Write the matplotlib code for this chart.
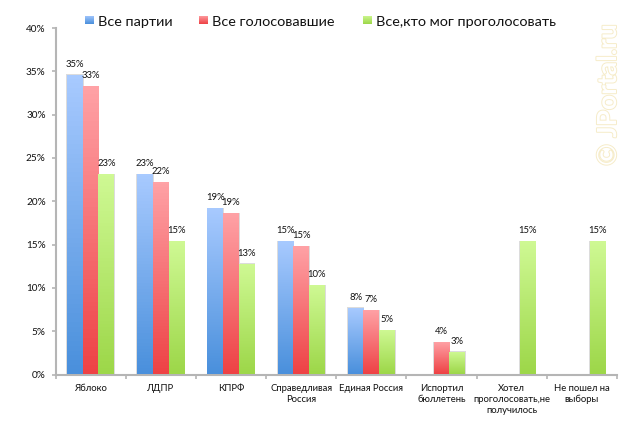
""" Grouped bar chart with gradient fill, survey by party """
import numpy as np
import matplotlib
matplotlib.use("Agg")
import matplotlib.pyplot as plt
import matplotlib.patheffects as pe
from matplotlib.colors import LinearSegmentedColormap
from matplotlib.patches import Rectangle

plt.rcParams['font.family'] = ['Lato', 'DejaVu Sans']

categories = ["Яблоко", "ЛДПР", "КПРФ", "Справедливая\nРоссия", "Единая Россия",
              "Испортил\nбюллетень", "Хотел\nпроголосовать,не\nполучилось", "Не пошел на\nвыборы"]
series_names = ["Все партии", "Все голосовавшие", "Все,кто мог проголосовать"]

all_parties = [34.6, 23.1, 19.2, 15.4, 7.7, None, None, None]
all_voted = [33.3, 22.2, 18.6, 14.8, 7.4, 3.7, None, None]
all_could = [23.1, 15.4, 12.8, 10.3, 5.1, 2.6, 15.4, 15.4]

yticks = [0, 5, 10, 15, 20, 25, 30, 35, 40]

# top colour, bottom colour
colors = [("#a8caff", "#4a90dc"), ("#ffa2a6", "#ee4245"), ("#cff994", "#9dd749")]
width = 0.224

W, H = 632, 433
fig = plt.figure(figsize=(W / 100, H / 100), dpi=100)
ax = fig.add_axes([55.5 / W, 1 - 374.5 / H, (617 - 55.5) / W, (374.5 - 28) / H])

for i, vals in enumerate([all_parties, all_voted, all_could]):
    cmap = LinearSegmentedColormap.from_list("g", [colors[i][0], colors[i][1]])
    for j, v in enumerate(vals):
        if v is None:
            continue
        x = j + (i - 1) * width
        bar = ax.bar(x, v, width, color="none", zorder=2)[0]
        # soft grey shadow at the side
        ax.add_patch(Rectangle((x - width / 2 - 0.012, 0), width + 0.024, v + 0.06,
                               fc="#dcdcdc", ec="none", zorder=1))
        im = ax.imshow(np.linspace(0, 1, 64).reshape(-1, 1), cmap=cmap, aspect="auto",
                       extent=(x - width / 2, x + width / 2, 0, v), origin="upper", zorder=3)
        im.set_clip_path(bar)
        ax.text(x, v + 0.7, f"{v:.0f}%", ha="center", va="bottom", fontsize=6.8,
                color="#111111", zorder=4)

ax.set_xlim(-0.5, len(categories) - 0.5)
ax.set_ylim(0, 40)
ax.set_xticks(np.arange(len(categories) + 1) - 0.5)
ax.set_xticklabels([])
ax.set_xticks(np.arange(len(categories)), labels=categories, minor=True)
ax.set_yticks(yticks, labels=[f"{t}%" for t in yticks])

ax.tick_params(axis="x", which="major", length=3, width=1.2, color="#b5b5b5")
ax.tick_params(axis="x", which="minor", length=0, pad=7, labelsize=6.8, labelcolor="#111111")
ax.tick_params(axis="y", length=3, width=1.2, color="#b5b5b5", labelsize=7.2, pad=4, labelcolor="#111111")
for lab in ax.get_xticklabels(minor=True):
    lab.set_linespacing(1.25)

for s in ["top", "right"]:
    ax.spines[s].set_visible(False)
for s in ["left", "bottom"]:
    ax.spines[s].set_color("#b5b5b5")
    ax.spines[s].set_linewidth(1.5)

# legend
legend_x = [85, 199, 363]
for name, c, lx in zip(series_names, colors, legend_x):
    sw = fig.add_axes([lx / W, 1 - 24 / H, 8.5 / W, 8.5 / H])
    sw.imshow(np.linspace(0, 1, 32).reshape(-1, 1),
              cmap=LinearSegmentedColormap.from_list("l", [c[0], c[1]]), aspect="auto")
    sw.axis("off")
    fig.text((lx + 13) / W, 1 - 21.5 / H, name, fontsize=10.4, va="center", ha="left", color="#111111")

# watermark
fig.text(608 / W, 1 - 95 / H, "© JPortal.ru", rotation=90, ha="center", va="center",
         fontsize=19, fontweight="bold", color="white",
         path_effects=[pe.withStroke(linewidth=1.4, foreground="#f6ecc9")])

fig.savefig("out.png", dpi=100)
